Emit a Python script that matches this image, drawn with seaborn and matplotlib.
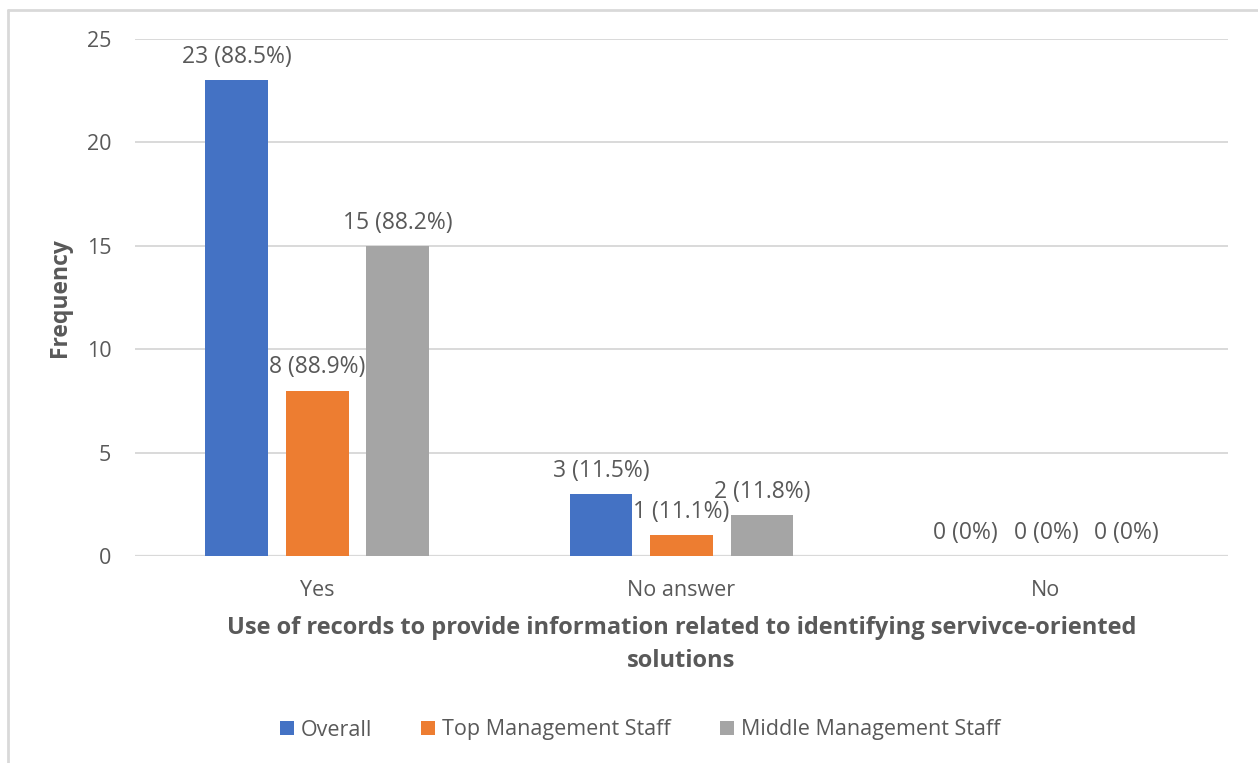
import matplotlib
matplotlib.use("Agg")
import matplotlib.pyplot as plt
from matplotlib.lines import Line2D
from matplotlib.patches import Patch
import pandas as pd
import seaborn as sns

# Responses to: use of records to provide information for service-oriented solutions
categories = ["Yes", "No answer", "No"]
groups = ["Overall", "Top Management Staff", "Middle Management Staff"]
overall = [23, 3, 0]
top_mgmt = [8, 1, 0]
middle_mgmt = [15, 2, 0]
overall_pct = [88.5, 11.5, 0]
top_mgmt_pct = [88.9, 11.1, 0]
middle_mgmt_pct = [88.2, 11.8, 0]
y_ticks = [0, 5, 10, 15, 20, 25]

colors = ["#4472C4", "#ED7D31", "#A5A5A5"]
text_grey = "#595959"
grid_grey = "#D9D9D9"

counts = [overall, top_mgmt, middle_mgmt]
pcts = [overall_pct, top_mgmt_pct, middle_mgmt_pct]
df = pd.DataFrame(
    [
        {"response": c, "group": g, "count": counts[i][j]}
        for i, g in enumerate(groups)
        for j, c in enumerate(categories)
    ]
)

sns.set_theme(style="white")
plt.rcParams["font.family"] = ["Open Sans", "DejaVu Sans"]

fig = plt.figure(figsize=(12.58, 7.63), dpi=100)
ax = fig.add_axes([0.1073, 0.2713, 0.8689, 0.6776])

sns.barplot(
    data=df, x="response", y="count", hue="group",
    order=categories, hue_order=groups, palette=colors,
    width=0.663, gap=0.22, ax=ax, legend=False, zorder=3,
    saturation=1, edgecolor="none",
)

ax.set_ylim(0, 25)
ax.set_xlim(-0.5, 2.5)
ax.set_yticks(y_ticks)
ax.yaxis.grid(True, color=grid_grey, linewidth=1.4, zorder=0)
ax.set_axisbelow(True)
for s in ax.spines.values():
    s.set_visible(False)
ax.axhline(0, color=grid_grey, linewidth=1.6, zorder=1)
ax.tick_params(axis="both", length=0, labelsize=15.5, labelcolor=text_grey)
ax.tick_params(axis="y", pad=17)
ax.tick_params(axis="x", pad=17)

for i, cont in enumerate(ax.containers):
    labels = [f"{v} ({p:g}%)" for v, p in zip(counts[i], pcts[i])]
    ax.bar_label(cont, labels=labels, padding=8, fontsize=16.5, color=text_grey)

ax.set_ylabel("Frequency", fontsize=16.5, fontweight="bold", color=text_grey)
ax.yaxis.set_label_coords(-0.0576, 0.5)
ax.set_xlabel(
    "Use of records to provide information related to identifying servivce-oriented\nsolutions",
    fontsize=17, fontweight="bold", color=text_grey, linespacing=1.45,
)
ax.xaxis.set_label_coords(0.5, -0.117)

handles = [Patch(facecolor=c, edgecolor="none") for c in colors]
fig.legend(
    handles, groups, loc="center", bbox_to_anchor=(640 / 1258, 1 - 730 / 763),
    ncol=3, frameon=False, fontsize=15.5, labelcolor=text_grey,
    handlelength=0.65, handleheight=0.65, handletextpad=0.3, columnspacing=2.3,
)

# light chart-area border on the top and left
fig.add_artist(Line2D([8 / 1258, 1.0], [1 - 10 / 763] * 2, color=grid_grey, linewidth=2))
fig.add_artist(Line2D([8 / 1258] * 2, [0, 1 - 10 / 763], color=grid_grey, linewidth=2))

fig.savefig("out.png", dpi=100, facecolor="white")
